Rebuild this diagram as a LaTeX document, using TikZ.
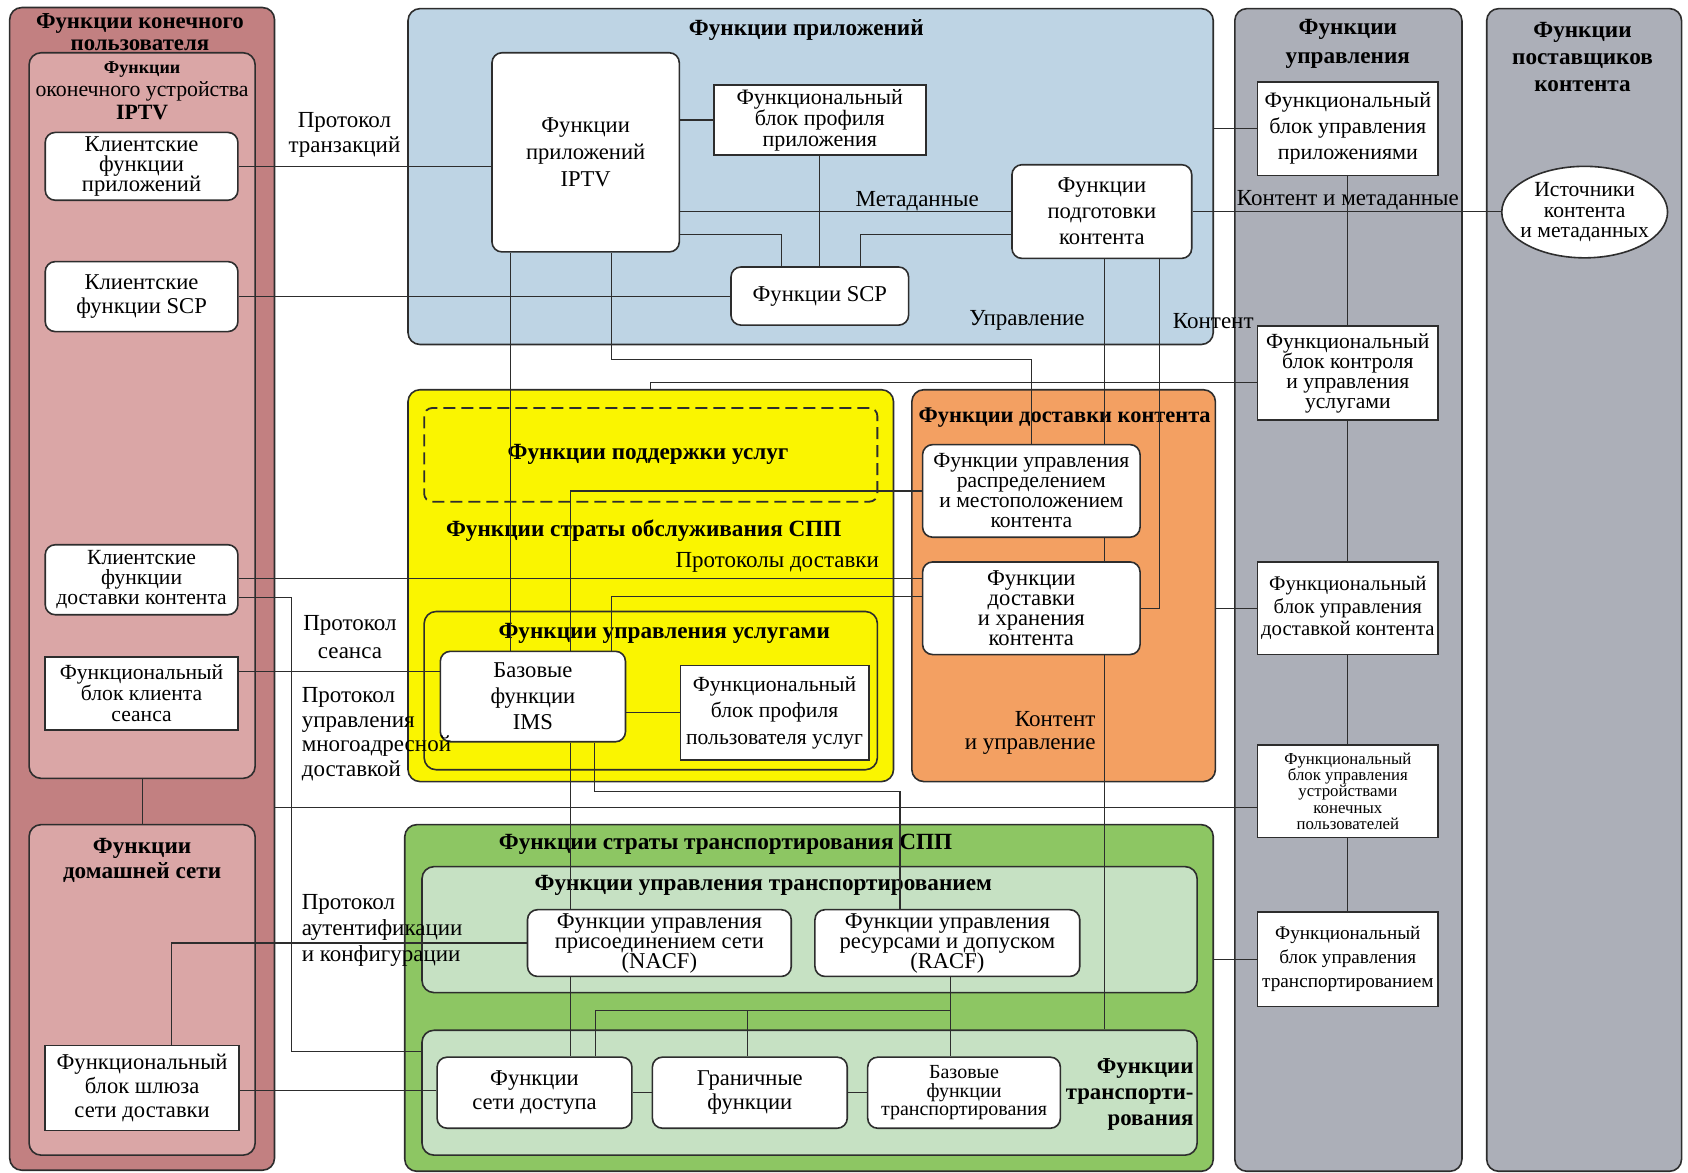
\documentclass[tikz,border=0pt]{standalone}
\usepackage{fontspec}
\setmainfont{Liberation Serif}
\usetikzlibrary{fit,shapes.geometric}
\pgfdeclarelayer{bg}
\pgfdeclarelayer{wires}
\pgfsetlayers{bg,wires,main}

\definecolor{euout}{RGB}{194,128,129}
\definecolor{euin}{RGB}{218,166,166}
\definecolor{appblue}{RGB}{190,212,228}
\definecolor{mgray}{RGB}{172,175,184}
\definecolor{svyellow}{RGB}{250,245,0}
\definecolor{cdorange}{RGB}{243,160,98}
\definecolor{trgreen}{RGB}{141,198,99}
\definecolor{trlight}{RGB}{198,225,195}
\definecolor{edge}{RGB}{45,45,45}

% font size and fixed leading (lines may sit closer than the glyphs allow)
\newcommand\setfs[2]{\fontsize{#1}{#2}\selectfont\lineskiplimit=-20pt\relax}

\begin{document}
\begin{tikzpicture}[x=0.53827pt,y=-0.53827pt,
  font=\setfs{11.3}{10},
  zone/.style={draw=edge, line width=0.8pt, rounded corners=6pt, inner sep=0pt},
  rbox/.style={draw=edge, fill=white, line width=0.8pt, rounded corners=5pt, inner sep=0pt},
  sbox/.style={draw=edge, fill=white, line width=0.8pt, inner sep=0pt},
  txt/.style={align=center, inner sep=0pt},
  wire/.style={draw=edge, line width=0.6pt},
  ttl/.style={font=\setfs{11.6}{11}\bfseries, align=center, inner sep=0pt},
  lbl/.style={align=center, inner sep=0pt, font=\setfs{11.5}{12.4}}]

\useasboundingbox (0,0) rectangle (1568,1089);

% ---------- areas ----------
\begin{pgfonlayer}{bg}
  % end user
  \node[zone, fill=euout, fit={(9,7) (255,1087)}] (enduser) {};
  \node[zone, fill=euin, fit={(27,49) (237,723)}] (term) {};
  \node[zone, fill=euin, fit={(27,766) (237,1073)}] (home) {};
  \node[ttl, font=\setfs{11.4}{10.8}\bfseries] at (130,30) {Функции конечного\\пользователя};
  \node[ttl, font=\setfs{10.9}{11.5}] at (132,84) {{\bfseries\setfs{9}{11.5}Функции}\\оконечного устройства\\{\bfseries IPTV}};
  \node[ttl, font=\setfs{11.6}{12.4}\bfseries] at (132,799) {Функции\\домашней сети};
  % applications
  \node[zone, fill=appblue, fit={(379,8) (1127,320)}] (blue) {};
  \node[ttl] at (749,28) {Функции приложений};
  % management and providers
  \node[zone, fill=mgray, fit={(1147,8) (1358,1088)}] (mgmt) {};
  \node[ttl, font=\setfs{11.6}{14.5}\bfseries] at (1252,41) {Функции\\управления};
  \node[zone, fill=mgray, fit={(1381,8) (1562,1088)}] (prov) {};
  \node[ttl, font=\setfs{11.6}{13.5}\bfseries] at (1470,53) {Функции\\поставщиков\\контента};
  % service stratum
  \node[zone, fill=svyellow, fit={(379,362) (830,726)}] (yellow) {};
  \node[zone, dashed, dash pattern=on 6pt off 3pt, line width=0.9pt, rounded corners=4pt, fit={(394,379) (815,466)}] (support) {};
  \node[ttl] at (602,422) {Функции поддержки услуг};
  \node[ttl] at (598,493) {Функции страты обслуживания СПП};
  \node[lbl] at (722,522) {Протоколы доставки};
  \node[zone, fill=svyellow, fit={(394,568) (815,715)}] (svc) {};
  \node[ttl] at (617,588) {Функции управления услугами};
  % content delivery
  \node[zone, fill=cdorange, fit={(847,362) (1129,726)}] (orange) {};
  \node[ttl, font=\setfs{11.2}{11}\bfseries] at (989,388) {Функции доставки контента};
  \node[lbl, align=right, anchor=east, font=\setfs{11.5}{11.8}] at (1018,681) {Контент\\и управление};
  % transport stratum
  \node[zone, fill=trgreen, fit={(376,766) (1127,1088)}] (green) {};
  \node[ttl] at (674,784) {Функции страты транспортирования СПП};
  \node[zone, fill=trlight, fit={(392,805) (1112,922)}] (trctl) {};
  \node[ttl] at (709,822) {Функции управления транспортированием};
  \node[zone, fill=trlight, fit={(392,957) (1112,1073)}] (trsub) {};
  \node[ttl, align=right, anchor=east, font=\setfs{11.4}{13}\bfseries] at (1109,1017) {Функции\\транспорти-\\рования};
\end{pgfonlayer}

% ---------- functional blocks ----------
\node[rbox, fit={(42,123) (221,186)}] (appcl) {};
\node[txt] at (appcl) {Клиентские\\функции\\приложений};
\node[rbox, fit={(42,243) (221,308)}] (scpcl) {};
\node[txt, font=\setfs{11.3}{12.4}] at (scpcl) {Клиентские\\функции SCP};
\node[rbox, fit={(42,506) (221,571)}] (cdcl) {};
\node[txt, font=\setfs{10.8}{10}] at (cdcl) {Клиентские\\функции\\доставки контента};
\node[sbox, fit={(42,610) (221,678)}] (sescl) {};
\node[txt, font=\setfs{10.8}{10.6}] at (sescl) {Функциональный\\блок клиента\\сеанса};
\node[sbox, fit={(42,971) (222,1050)}] (gw) {};
\node[txt, font=\setfs{11.3}{12}] at (gw) {Функциональный\\блок шлюза\\сети доставки};

\node[rbox, fit={(457,49) (631,234)}] (iptv) {};
\node[txt, font=\setfs{11.3}{13.5}] at (iptv) {Функции\\приложений\\IPTV};
\node[sbox, fit={(663,79) (860,144)}] (approf) {};
\node[txt, font=\setfs{11}{10.4}] at (approf) {Функциональный\\блок профиля\\приложения};
\node[rbox, fit={(940,153) (1107,240)}] (prep) {};
\node[txt, font=\setfs{11.3}{13}] at (prep) {Функции\\подготовки\\контента};
\node[rbox, fit={(679,248) (844,302)}] (scp) {};
\node[txt] at (scp) {Функции SCP};

\node[sbox, fit={(1168,76) (1336,163)}] (appmgmt) {};
\node[txt, font=\setfs{11}{13}] at (appmgmt) {Функциональный\\блок управления\\приложениями};
\node[sbox, fit={(1168,303) (1336,390)}] (scmgmt) {};
\node[txt, font=\setfs{10.8}{10}] at (scmgmt) {Функциональный\\блок контроля\\и управления\\услугами};
\node[sbox, fit={(1168,522) (1336,608)}] (cdmgmt) {};
\node[txt, font=\setfs{10.4}{11.3}] at (cdmgmt) {Функциональный\\блок управления\\доставкой контента};
\node[sbox, fit={(1168,692) (1336,778)}] (udmgmt) {};
\node[txt, font=\setfs{8.4}{8.1}] at (udmgmt) {Функциональный\\блок управления\\устройствами\\конечных\\пользователей};
\node[sbox, fit={(1168,847) (1336,935)}] (trmgmt) {};
\node[txt, font=\setfs{9.6}{12}] at (trmgmt) {Функциональный\\блок управления\\транспортированием};
\node[draw=edge, fill=white, line width=0.8pt, ellipse, inner sep=0pt,
      minimum width=154*0.53827pt, minimum height=85*0.53827pt] (src) at (1472,197) {};
\node[txt, font=\setfs{10.8}{10.2}] at (src) {Источники\\контента\\и метаданных};

\node[rbox, fit={(409,605) (581,689)}] (ims) {};
\node[txt, font=\setfs{11.3}{13}] at (ims) {Базовые\\функции\\IMS};
\node[sbox, fit={(632,618) (807,706)}] (uprof) {};
\node[txt, font=\setfs{10.8}{13.3}] at (uprof) {Функциональный\\блок профиля\\пользователя услуг};

\node[rbox, fit={(857,413) (1059,499)}] (distr) {};
\node[txt, font=\setfs{10.8}{10}] at (distr) {Функции управления\\распределением\\и местоположением\\контента};
\node[rbox, fit={(857,522) (1059,608)}] (store) {};
\node[txt] at (store) {Функции\\доставки\\и хранения\\контента};

\node[rbox, fit={(490,845) (735,907)}] (nacf) {};
\node[txt] at (nacf) {Функции управления\\присоединением сети\\(NACF)};
\node[rbox, fit={(757,845) (1003,907)}] (racf) {};
\node[txt] at (racf) {Функции управления\\ресурсами и допуском\\(RACF)};
\node[rbox, fit={(406,982) (587,1048)}] (acc) {};
\node[txt, font=\setfs{11.3}{12}] at (acc) {Функции\\сети доступа};
\node[rbox, fit={(606,982) (787,1048)}] (brd) {};
\node[txt, font=\setfs{11.3}{12}] at (brd) {Граничные\\функции};
\node[rbox, fit={(806,982) (985,1048)}] (core) {};
\node[txt, font=\setfs{10}{9.2}] at (core) {Базовые\\функции\\транспортирования};

% ---------- connector labels ----------
\node[lbl] at (320,125) {Протокол\\транзакций};
\node[lbl] at (852,187) {Метаданные};
\node[lbl] at (954,298) {Управление};
\node[lbl] at (1127,298) {Контент};
\node[lbl] at (1252,186) {Контент и метаданные};
\node[lbl, font=\setfs{11.5}{14}] at (325,592) {Протокол\\сеанса};
\node[lbl, align=left, anchor=west, font=\setfs{11.5}{12.2}] at (280,682) {Протокол\\управления\\многоадресной\\доставкой};
\node[lbl, align=left, anchor=west, font=\setfs{11.5}{13}] at (280,864) {Протокол\\аутентификации\\и конфигурации};

% ---------- connectors ----------
\begin{pgfonlayer}{wires}
  % end user side
  \draw[wire] (appcl.east) -- (appcl.east -| iptv.west);
  \draw[wire] (scpcl.east) -- (scpcl.east -| scp.west);
  \draw[wire] (cdcl.east |- 0,537) -- (store.west |- 0,537);
  \draw[wire] (cdcl.east |- 0,555) -| (271,977) -- (trsub.west |- 0,977);
  \draw[wire] (sescl.east |- 0,624) -- (ims.west |- 0,624);
  \draw[wire] (term.south -| 132,0) -- (home.north -| 132,0);
  \draw[wire] (gw.north -| 159,0) |- (nacf.west);
  \draw[wire] (gw.east |- 0,1013) -- (acc.west |- 0,1013);
  \draw[wire] (enduser.east |- 0,750) -- (udmgmt.west |- 0,750);
  % applications
  \draw[wire] (approf.west -| iptv.east) -- (approf.west);
  \draw[wire] (approf.south) -- (approf.south |- scp.north);
  \draw[wire] (prep.west -| iptv.east) -- (prep.west);
  \draw[wire] (iptv.east |- 0,218) -| (scp.north -| 726,0);
  \draw[wire] (prep.west |- 0,218) -| (scp.north -| 799,0);
  \draw[wire] (prep.east) -- (prep.east -| src.west);
  \draw[wire] (appmgmt.west -| blue.east) -- (appmgmt.west);
  \draw[wire] (iptv.south -| 568,0) |- (958,334) -- (distr.north -| 958,0);
  \draw[wire] (iptv.south -| 474,0) -- (ims.north -| 474,0);
  \draw[wire] (yellow.north -| 604,0) |- (scmgmt.west |- 0,355);
  \draw[wire] (prep.south -| 1026,0) -- (trsub.north -| 1026,0);
  \draw[wire] (prep.south -| 1077,0) |- (store.east);
  % management chain
  \draw[wire] (appmgmt.south) -- (scmgmt.north);
  \draw[wire] (scmgmt.south) -- (cdmgmt.north);
  \draw[wire] (cdmgmt.south) -- (udmgmt.north);
  \draw[wire] (udmgmt.south) -- (trmgmt.north);
  \draw[wire] (cdmgmt.west -| orange.east) -- (cdmgmt.west);
  \draw[wire] (trmgmt.west -| green.east) -- (trmgmt.west);
  % service and delivery
  \draw[wire] (distr.west) -| (ims.north -| 530,0);
  \draw[wire] (store.west |- 0,554) -| (ims.north -| 568,0);
  \draw[wire] (uprof.west -| ims.east) -- (uprof.west);
  \draw[wire] (ims.south -| 530,0) -- (nacf.north -| 530,0);
  \draw[wire] (ims.south -| 552,0) |- (836,735) -- (racf.north -| 836,0);
  % transport
  \draw[wire] (nacf.south -| 530,0) -- (acc.north -| 530,0);
  \draw[wire] (racf.south -| 883,0) -- (core.north -| 883,0);
  \draw[wire] (acc.north -| 553,0) |- (883,939);
  \draw[wire] (brd.north -| 694,0) -- (694,939);
  \draw[wire] (acc.east) -- (brd.west);
  \draw[wire] (brd.east) -- (core.west);
\end{pgfonlayer}
\end{tikzpicture}
\end{document}
